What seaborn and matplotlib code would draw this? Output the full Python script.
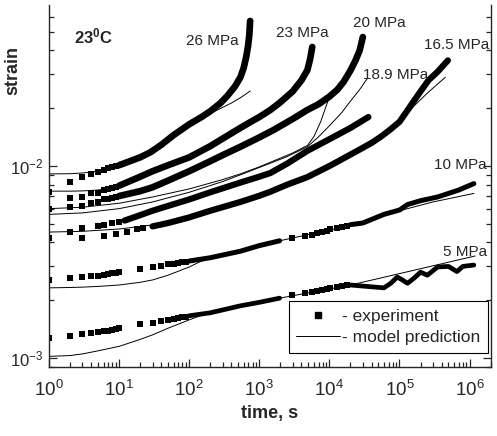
import matplotlib
matplotlib.use('Agg')
import matplotlib.pyplot as plt
import seaborn as sns
from matplotlib.lines import Line2D
from matplotlib.ticker import LogLocator, NullFormatter

# --- data (time in s, strain) ---
# 26 MPa
exp26_pts_t = [2, 3, 4, 5, 6, 7, 8, 9]
exp26_pts_e = [8.26e-3, 8.77e-3, 9.1e-3, 9.3e-3, 9.5e-3, 9.76e-3, 9.88e-3, 1.0e-2]
exp26_line_t = [10, 20, 28, 40, 60, 100, 150, 200, 280, 350, 450, 537, 600, 650, 690, 720, 740]
exp26_line_e = [1.01e-2, 1.11e-2, 1.18e-2, 1.29e-2, 1.45e-2, 1.65e-2, 1.8e-2, 1.93e-2, 2.13e-2,
                2.32e-2, 2.6e-2, 2.9e-2, 3.25e-2, 3.7e-2, 4.2e-2, 4.8e-2, 5.7e-2]
mod26_t = [1, 2, 3, 5, 7, 10, 20, 40, 60, 100, 200, 300, 400, 550, 740]
mod26_e = [9.1e-3, 9.12e-3, 9.2e-3, 9.4e-3, 9.6e-3, 1.0e-2, 1.1e-2, 1.28e-2, 1.43e-2, 1.63e-2,
           1.88e-2, 2.02e-2, 2.13e-2, 2.28e-2, 2.46e-2]

# 23 MPa
exp23_pts_t = [1, 2, 3, 4, 5, 6, 7, 8, 9]
exp23_pts_e = [7.3e-3, 6.81e-3, 6.89e-3, 7.2e-3, 7.25e-3, 7.5e-3, 7.6e-3, 7.7e-3, 7.8e-3]
exp23_line_t = [10, 20, 30, 50, 100, 200, 300, 537, 800, 1000, 1440, 2000, 3000, 4000, 4850, 5300, 5700]
exp23_line_e = [7.9e-3, 8.8e-3, 9.4e-3, 1.01e-2, 1.11e-2, 1.27e-2, 1.39e-2, 1.58e-2, 1.72e-2, 1.8e-2,
                1.96e-2, 2.15e-2, 2.45e-2, 2.8e-2, 3.16e-2, 3.6e-2, 4.17e-2]
mod23_t = [1, 2, 3, 5, 8, 10, 30, 100, 537, 1440, 3000, 4850]
mod23_e = [7.4e-3, 7.4e-3, 7.42e-3, 7.5e-3, 7.7e-3, 7.85e-3, 9.35e-3, 1.1e-2, 1.57e-2, 1.94e-2, 2.42e-2, 3.1e-2]

# 20 MPa
exp20_pts_t = [1, 2, 3, 4, 5, 6, 7, 8, 9]
exp20_pts_e = [5.97e-3, 6.11e-3, 6.18e-3, 6.45e-3, 6.5e-3, 6.7e-3, 6.75e-3, 6.85e-3, 6.9e-3]
exp20_line_t = [10, 20, 30, 50, 100, 200, 300, 537, 1000, 1590, 3000, 4850, 7000, 1e4, 1.3e4,
                1.6e4, 2e4, 2.36e4, 2.7e4, 3e4]
exp20_line_e = [6.98e-3, 7.4e-3, 7.75e-3, 8.4e-3, 9.4e-3, 1.06e-2, 1.14e-2, 1.26e-2, 1.41e-2, 1.54e-2,
                1.76e-2, 1.96e-2, 2.1e-2, 2.3e-2, 2.5e-2, 2.75e-2, 3.15e-2, 3.55e-2, 4.0e-2, 4.7e-2]
mod20_t = [1, 3, 10, 30, 100, 300, 537, 1000, 2000, 3000, 4850, 6000, 7500, 9600, 1.3e4, 1.6e4]
mod20_e = [6.0e-3, 6.1e-3, 6.4e-3, 6.9e-3, 7.6e-3, 8.5e-3, 9.1e-3, 9.9e-3, 1.1e-2, 1.17e-2, 1.28e-2,
           1.42e-2, 1.7e-2, 2.2e-2, 2.5e-2, 2.75e-2]

# 18.9 MPa
exp189_pts_t = [2, 3, 5, 6, 8, 10]
exp189_pts_e = [4.55e-3, 4.76e-3, 4.85e-3, 4.93e-3, 5.05e-3, 5.12e-3]
exp189_line_t = [12, 20, 30, 50, 100, 200, 537, 1000, 1440, 2500, 4850, 1e4, 2e4, 3.6e4]
exp189_line_e = [5.2e-3, 5.55e-3, 5.85e-3, 6.2e-3, 6.7e-3, 7.3e-3, 8.2e-3, 8.8e-3, 9.2e-3, 1.03e-2,
                 1.2e-2, 1.38e-2, 1.58e-2, 1.8e-2]
mod189_t = [1, 3, 10, 30, 100, 300, 537, 1300, 2500, 4850, 7000, 1e4, 1.5e4, 2e4, 2.7e4, 3.5e4]
mod189_e = [5.6e-3, 5.7e-3, 6.0e-3, 6.5e-3, 7.3e-3, 8.3e-3, 9.0e-3, 1.02e-2, 1.12e-2, 1.26e-2, 1.42e-2,
            1.62e-2, 1.9e-2, 2.18e-2, 2.5e-2, 2.87e-2]

# 16.5 MPa
exp165_pts_t = [1, 3, 6, 9, 13, 18, 22]
exp165_pts_e = [4.2e-3, 4.2e-3, 4.3e-3, 4.42e-3, 4.53e-3, 4.7e-3, 4.76e-3]
exp165_line_t = [30, 50, 100, 200, 537, 1000, 1440, 2500, 4850, 1e4, 2.5e4, 4e4, 5.4e4, 7.4e4, 1e5,
                 1.3e5, 1.6e5, 2e5, 2.6e5, 3.5e5, 4.9e5]
exp165_line_e = [4.85e-3, 5.05e-3, 5.4e-3, 5.85e-3, 6.5e-3, 7.0e-3, 7.35e-3, 8.0e-3, 8.76e-3, 1.0e-2,
                 1.2e-2, 1.32e-2, 1.42e-2, 1.55e-2, 1.7e-2, 1.95e-2, 2.18e-2, 2.45e-2, 2.8e-2, 3.1e-2, 3.55e-2]
mod165_t = [1, 3, 10, 30, 50, 100, 300, 537, 1500, 4850, 1.5e4, 5e4, 1e5, 1.6e5, 2.5e5, 4.5e5]
mod165_e = [4.53e-3, 4.57e-3, 4.7e-3, 4.93e-3, 5.1e-3, 5.4e-3, 6.1e-3, 6.5e-3, 7.4e-3, 8.7e-3, 1.1e-2,
            1.38e-2, 1.68e-2, 2.05e-2, 2.4e-2, 2.9e-2]

# 10 MPa
exp10_pts_t = [1, 2, 3, 4, 5, 6, 7, 8, 9, 10, 20, 30, 40, 50, 60, 70, 80, 90,
               2950, 4560, 5660, 6640, 7880, 9100, 1.03e4, 1.29e4, 1.5e4, 1.8e4]
exp10_pts_e = [2.55e-3, 2.61e-3, 2.64e-3, 2.66e-3, 2.68e-3, 2.71e-3, 2.74e-3, 2.76e-3, 2.78e-3,
               2.80e-3, 2.91e-3, 2.98e-3, 3.03e-3, 3.07e-3, 3.10e-3, 3.13e-3, 3.16e-3, 3.18e-3,
               4.2e-3, 4.3e-3, 4.37e-3, 4.48e-3, 4.53e-3, 4.6e-3, 4.68e-3, 4.76e-3, 4.82e-3, 4.9e-3]
exp10_line1_t = [100, 200, 537, 1000, 1950]
exp10_line1_e = [3.2e-3, 3.33e-3, 3.6e-3, 3.85e-3, 4.08e-3]
exp10_line2_t = [2e4, 3e4, 6e4, 1e5, 1.3e5, 2e5, 3.5e5, 5e5, 7e5, 9e5, 1.15e6]
exp10_line2_e = [4.95e-3, 5.05e-3, 5.6e-3, 5.9e-3, 6.3e-3, 6.6e-3, 6.9e-3, 7.2e-3, 7.5e-3, 7.8e-3, 8.1e-3]
mod10_t = [1, 2, 3, 5, 10, 20, 30, 50, 100, 150, 300, 537, 1950, 2e4, 1e5, 3e5, 1.15e6]
mod10_e = [2.32e-3, 2.33e-3, 2.34e-3, 2.36e-3, 2.4e-3, 2.48e-3, 2.55e-3, 2.7e-3, 2.98e-3, 3.2e-3,
           3.42e-3, 3.58e-3, 4.08e-3, 4.9e-3, 5.85e-3, 6.5e-3, 7.2e-3]

# 5 MPa
exp5_pts_t = [1, 2, 3, 4, 5, 6, 7, 8, 9, 10, 20, 30, 40, 50, 60, 70, 80, 90,
              2950, 4560, 5660, 6640, 7880, 9100, 1.03e4, 1.29e4, 1.5e4, 1.8e4]
exp5_pts_e = [1.27e-3, 1.30e-3, 1.33e-3, 1.35e-3, 1.37e-3, 1.38e-3, 1.39e-3, 1.40e-3, 1.42e-3,
              1.43e-3, 1.50e-3, 1.52e-3, 1.56e-3, 1.58e-3, 1.60e-3, 1.61e-3, 1.63e-3, 1.64e-3,
              2.13e-3, 2.18e-3, 2.21e-3, 2.24e-3, 2.26e-3, 2.29e-3, 2.32e-3, 2.35e-3, 2.37e-3, 2.40e-3]
exp5_line1_t = [100, 200, 537, 1000, 1950]
exp5_line1_e = [1.66e-3, 1.72e-3, 1.87e-3, 1.95e-3, 2.05e-3]
exp5_line2_t = [2e4, 3e4, 6e4, 7.5e4, 9.3e4, 1.1e5, 1.3e5, 1.6e5, 2e5, 2.5e5, 3e5, 3.5e5, 5e5, 6.6e5, 8e5, 1.15e6]
exp5_line2_e = [2.40e-3, 2.37e-3, 2.32e-3, 2.45e-3, 2.64e-3, 2.55e-3, 2.45e-3, 2.6e-3, 2.80e-3, 2.70e-3,
                2.85e-3, 2.98e-3, 3.0e-3, 2.82e-3, 3.0e-3, 3.05e-3]
mod5_t = [1, 2, 3, 5, 10, 20, 30, 50, 100, 150, 537, 1950, 2e4, 1.2e6]
mod5_e = [1.02e-3, 1.03e-3, 1.05e-3, 1.09e-3, 1.15e-3, 1.25e-3, 1.32e-3, 1.43e-3, 1.58e-3, 1.67e-3,
          1.87e-3, 2.05e-3, 2.4e-3, 3.4e-3]

labels = ['26 MPa', '23 MPa', '20 MPa', '18.9 MPa', '16.5 MPa', '10 MPa', '5 MPa']

# --- style ---
sns.set_style('ticks')
plt.rcParams['font.family'] = ['Liberation Sans', 'DejaVu Sans']
plt.rcParams['mathtext.fontset'] = 'custom'
plt.rcParams['mathtext.rm'] = 'Liberation Sans'
plt.rcParams['mathtext.it'] = 'Liberation Sans:italic'
plt.rcParams['mathtext.bf'] = 'Liberation Sans:bold'

fig = plt.figure(figsize=(4.97, 4.36), dpi=100)
ax = fig.add_axes([0.0986, 0.1583, 0.8887, 0.8302])
ax.set_xscale('log')
ax.set_yscale('log')


def draw_exp(pts_t, pts_e, lines, lw):
    sns.scatterplot(x=pts_t, y=pts_e, marker='s', s=16, color='black', linewidth=0, ax=ax)
    for lt, le in lines:
        sns.lineplot(x=lt, y=le, color='black', lw=lw, estimator=None, sort=False, ax=ax)


def draw_model(t, e):
    sns.lineplot(x=t, y=e, color='black', lw=0.7, estimator=None, sort=False, ax=ax)


draw_exp(exp26_pts_t, exp26_pts_e, [(exp26_line_t, exp26_line_e)], 4.8)
draw_exp(exp23_pts_t, exp23_pts_e, [(exp23_line_t, exp23_line_e)], 4.8)
draw_exp(exp20_pts_t, exp20_pts_e, [(exp20_line_t, exp20_line_e)], 4.8)
draw_exp(exp189_pts_t, exp189_pts_e, [(exp189_line_t, exp189_line_e)], 4.5)
draw_exp(exp165_pts_t, exp165_pts_e, [(exp165_line_t, exp165_line_e)], 4.5)
draw_exp(exp10_pts_t, exp10_pts_e, [(exp10_line1_t, exp10_line1_e), (exp10_line2_t, exp10_line2_e)], 3.6)
draw_exp(exp5_pts_t, exp5_pts_e, [(exp5_line1_t, exp5_line1_e), (exp5_line2_t, exp5_line2_e)], 3.4)

for t, e in [(mod26_t, mod26_e), (mod23_t, mod23_e), (mod20_t, mod20_e), (mod189_t, mod189_e),
             (mod165_t, mod165_e), (mod10_t, mod10_e), (mod5_t, mod5_e)]:
    draw_model(t, e)

ax.set_xlim(1, 2.0e6)
ax.set_ylim(8.98e-4, 0.069)

ax.xaxis.set_major_locator(LogLocator(base=10, numticks=20))
ax.xaxis.set_minor_locator(LogLocator(base=10, subs=range(2, 10), numticks=20))
ax.xaxis.set_minor_formatter(NullFormatter())
ax.yaxis.set_minor_locator(LogLocator(base=10, subs=range(2, 10), numticks=20))
ax.yaxis.set_minor_formatter(NullFormatter())
ax.tick_params(which='both', direction='in', right=True, top=False, width=0.9)
ax.tick_params(which='major', length=6)
ax.tick_params(which='minor', length=3.5)
ax.tick_params(axis='x', labelsize=13.5, pad=9)
ax.tick_params(axis='y', labelsize=12, pad=4)
ax.spines['top'].set_visible(False)
for s in ['left', 'right', 'bottom']:
    ax.spines[s].set_linewidth(1.0)

ax.set_xlabel('time, s', fontweight='bold', fontsize=13, labelpad=4)
ax.set_ylabel('strain', fontweight='bold', fontsize=13)
ax.yaxis.set_label_coords(-0.062, 0.82)

ax.text(0.0998, 0.914, r'$\mathbf{23^{0}C}$', transform=ax.transAxes, ha='center', va='center', fontsize=12)
label_pos = [(0.370, 0.901), (0.574, 0.923), (0.748, 0.950), (0.785, 0.807),
             (0.923, 0.890), (0.932, 0.558), (0.943, 0.318)]
for lab, (fx, fy) in zip(labels, label_pos):
    ax.text(fx, fy, lab, transform=ax.transAxes, ha='center', va='center', fontsize=11)

handles = [Line2D([], [], marker='s', ls='none', color='black', markersize=4.5),
           Line2D([], [], color='black', lw=0.7)]
leg = ax.legend(handles, ['- experiment', '- model prediction'], loc='lower right',
                bbox_to_anchor=(0.993, 0.0387), bbox_transform=ax.transAxes,
                frameon=True, fancybox=False, edgecolor='black', framealpha=1,
                fontsize=12.5, handlelength=2.5, handletextpad=0.1, borderpad=0.45,
                labelspacing=0.35, borderaxespad=0)
leg.get_frame().set_linewidth(0.8)

fig.savefig('out.png', dpi=100)
